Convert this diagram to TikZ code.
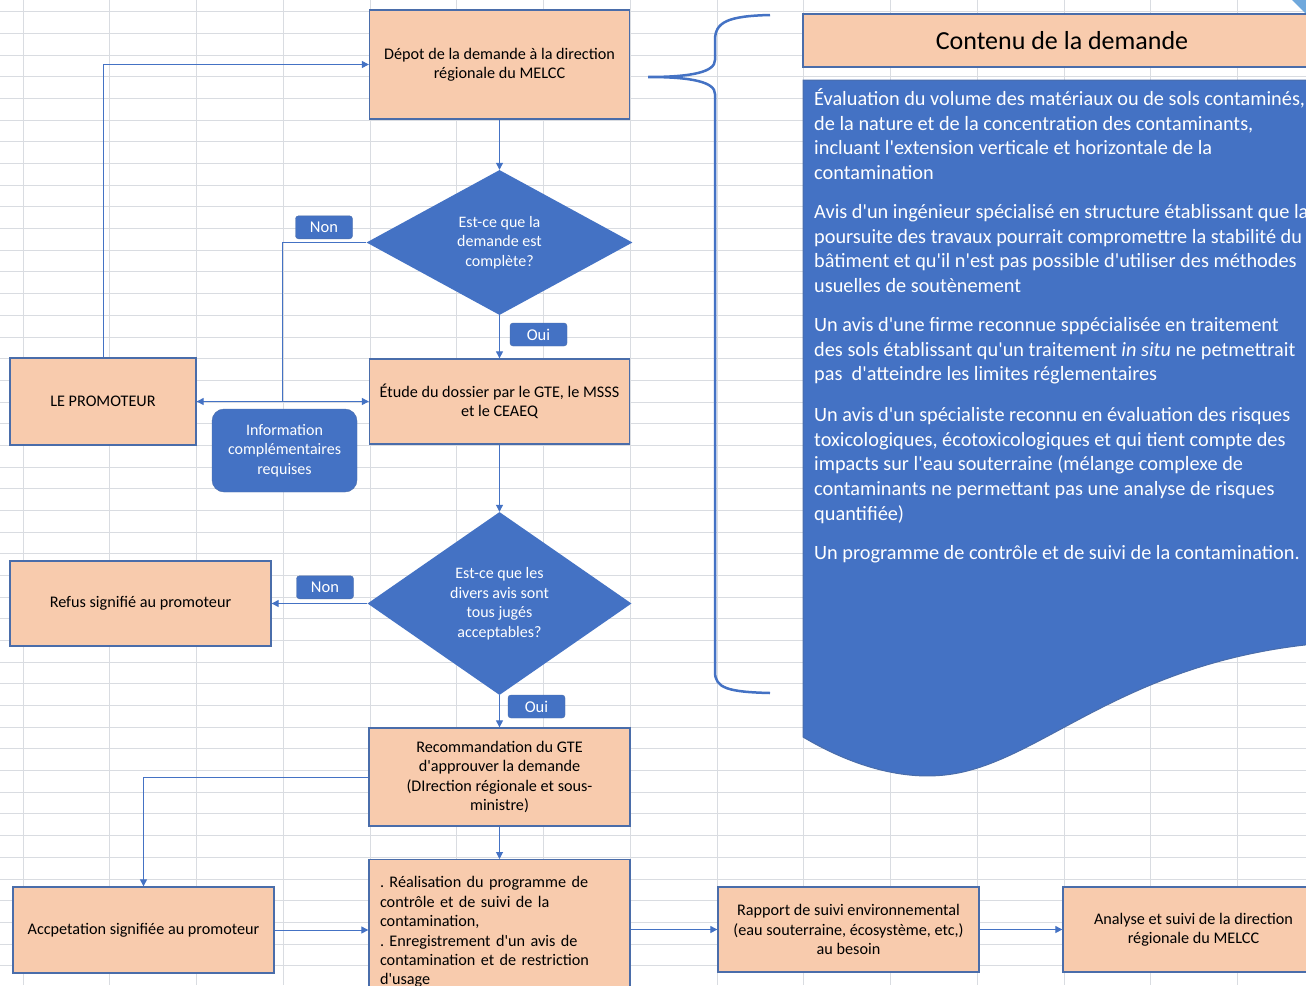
\documentclass[tikz,border=0pt]{standalone}
\usepackage{fontspec}
\defaultfontfeatures[\rmfamily]{}
\setmainfont{Carlito}
\usetikzlibrary{shapes.geometric,arrows.meta}

\definecolor{peach}{HTML}{F8CBAD}
\definecolor{office}{HTML}{4472C4}
\definecolor{edge}{HTML}{4A6DAA}
\definecolor{gridline}{HTML}{D9DCE1}
\definecolor{skyblue}{HTML}{6FA8DC}

\begin{document}
\frenchspacing
\begin{tikzpicture}[x=1pt, y=-1pt,
    peachnode/.style={draw=edge, fill=peach, line width=1.3pt, rectangle, align=center, inner sep=4pt, font=\fontsize{16.2}{19.4}\selectfont},
    bluenode/.style={shape=diamond, fill=office, text=white, align=center, inner sep=0pt, font=\fontsize{16}{19.5}\selectfont},
    tagbox/.style={rectangle, rounded corners=3pt, fill=office, draw=edge, text=white, minimum width=57pt, minimum height=23pt, inner sep=0pt, font=\fontsize{16.5}{19}\selectfont},
    doctext/.style={text=white, align=left, anchor=base west, inner sep=0pt, font=\fontsize{20.3}{24.6}\selectfont},
    link/.style={draw=office, line width=1pt},
    arr/.style={link, -{Triangle[length=7pt, width=7pt]}}]
    \useasboundingbox (0,0) rectangle (1306,985);
    \clip (0,0) rectangle (1306,985);
    \fill[white] (0,0) rectangle (1306,985);
    % spreadsheet grid
    \foreach \k in {0,...,14}
        \draw[gridline, line width=1pt] ({23+86.75*\k},0) -- ({23+86.75*\k},985);
    \foreach \k in {0,...,45}
        \draw[gridline, line width=0.8pt] (0,{11.7+21.68*\k}) -- (1306,{11.7+21.68*\k});
    \fill[skyblue] (1292,0) -- (1306,0) -- (1306,14) -- cycle;

    % main column
    \node[peachnode, minimum width=260pt, minimum height=109pt] (1) at (499.5,64.5) {Dépot de la demande à la direction\\régionale du MELCC};
    \node[bluenode, minimum width=266pt, minimum height=145pt] (2) at (499.5,242.5) {Est-ce que la\\demande est\\complète?};
    \node[peachnode, minimum width=260pt, minimum height=85pt] (3) at (499.5,401.5) {Étude du dossier par le GTE, le MSSS\\et le CEAEQ};
    \node[peachnode, minimum width=186pt, minimum height=87pt] (4) at (103,401.5) {LE PROMOTEUR};
    \node[rectangle, rounded corners=12pt, fill=office, draw=edge, text=white, align=center, minimum width=145pt, minimum height=83pt, font=\fontsize{16}{19.5}\selectfont] (5) at (284.5,450.5) {Information\\complémentaires\\requises};
    \node[bluenode, minimum width=264pt, minimum height=183pt] (6) at (499.5,603.5) {Est-ce que les\\divers avis sont\\tous jugés\\acceptables?};
    \node[peachnode, minimum width=261pt, minimum height=85pt] (7) at (140.5,603.5) {Refus signifié au promoteur};
    \node[peachnode, minimum width=261pt, minimum height=98pt] (8) at (499.5,777) {Recommandation du GTE\\d'approuver la demande\\(DIrection régionale et sous-\\ministre)};
    \node[peachnode, minimum width=261pt, minimum height=86pt] (9) at (143.5,930) {Accpetation signifiée au promoteur};
    \node[peachnode, anchor=north, text width=239pt, align=left, inner xsep=11pt, inner ysep=17pt] (10) at (499.5,859) {. Réalisation du programme de\\contrôle et de suivi de la\\contamination,\\. Enregistrement d'un avis de\\contamination et de restriction\\d'usage};
    \node[peachnode, minimum width=261pt, minimum height=85pt] (11) at (848.5,929.5) {Rapport de suivi environnemental\\(eau souterraine, écosystème, etc,)\\au besoin};
    \node[peachnode, minimum width=261pt, minimum height=85pt] (12) at (1193.5,929.5) {Analyse et suivi de la direction\\régionale du MELCC};

    % yes / no tags
    \node[tagbox] (n1) at (324,227.3) {Non};
    \node[tagbox] (o1) at (538.5,334.5) {Oui};
    \node[tagbox] (n2) at (325,587.3) {Non};
    \node[tagbox] (o2) at (536.5,706.5) {Oui};

    \coordinate (j) at (282,401.5);
    \draw[arr] (1) -- (2);
    \draw[arr] (2) -- (3);
    \draw[arr] (3) -- (6);
    \draw[arr] (6) -- (8);
    \draw[arr] (8) -- (10);
    \draw[arr] (6) -- (7);
    \draw[link] (2.west) -| (j);
    \draw[link, {Triangle[length=7pt, width=7pt]}-{Triangle[length=7pt, width=7pt]}] (4) -- (3);
    \draw[arr] (4) |- (1);
    \draw[arr] (8) -| (9);
    \draw[arr] (9) -- (9 -| 10.west);
    \draw[arr] (10.east |- 11) -- (11);
    \draw[arr] (11) -- (12);

    % content of the request
    \draw[office, line width=2.5pt] (770,15) .. controls (728,16) and (715,22) .. (715,40) -- (715,60)
        .. controls (715,72) and (692,77) .. (648,77) .. controls (692,77) and (715,82) .. (715,94)
        -- (715,672) .. controls (715,688) and (728,692) .. (770,693);
    \node[peachnode, minimum width=518pt, minimum height=53pt, font=\fontsize{26}{30}\selectfont] (13) at (1062,40.5) {Contenu de la demande};
    \draw[draw=edge, fill=office, line width=1pt] (803,80) -- (1325,80) -- (1325,643)
        .. controls (1120,660) and (1040,765) .. (945,775) .. controls (900,780) and (850,765) .. (803,737) -- cycle;
    % base anchor is the last line of each paragraph
    \node[doctext] (p1) at (814,179.5) {Évaluation du volume des matériaux ou de sols contaminés,\\de la nature et de la concentration des contaminants,\\incluant l'extension verticale et horizontale de la\\contamination};
    \node[doctext] (p2) at (814,292.5) {Avis d'un ingénieur spécialisé en structure établissant que la\\poursuite des travaux pourrait compromettre la stabilité du\\bâtiment et qu'il n'est pas possible d'utiliser des méthodes\\usuelles de soutènement};
    \node[doctext] (p3) at (814,380.9) {Un avis d'une firme reconnue sppécialisée en traitement\\des sols établissant qu'un traitement \textit{in situ} ne petmettrait\\pas\ \ d'atteindre les limites réglementaires};
    \node[doctext] (p4) at (814,520.1) {Un avis d'un spécialiste reconnu en évaluation des risques\\toxicologiques, écotoxicologiques et qui tient compte des\\impacts sur l'eau souterraine (mélange complexe de\\contaminants ne permettant pas une analyse de risques\\quantifiée)};
    \node[doctext] (p5) at (814,559.7) {Un programme de contrôle et de suivi de la contamination.};
\end{tikzpicture}
\end{document}
